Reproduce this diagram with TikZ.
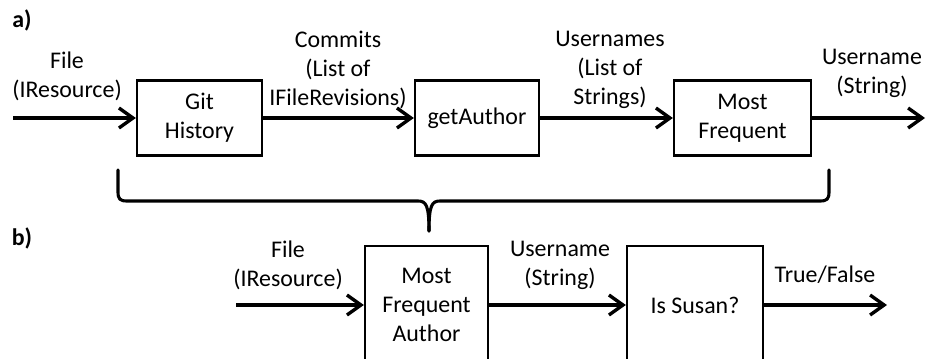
\documentclass[tikz,border=0pt]{standalone}
\usepackage{fontspec}
\setmainfont{Carlito}
\usetikzlibrary{arrows.meta}

\tikzset{
  every node/.style={font=\fontsize{17}{20.5}\selectfont},
  tag/.style={font=\fontsize{17}{20.5}\selectfont\bfseries, inner sep=0pt},
  blk/.style={draw, line width=1.6pt, minimum height=1.875cm, inner sep=2pt, align=center},
  tallblk/.style={blk, minimum height=2.95cm},
  lbl/.style={align=center, inner sep=0pt},
  flow/.style={line width=2.4pt, -{Straight Barb[length=3.5mm,width=5mm,line width=2.4pt]}},
  brace/.style={line width=2.2pt, line cap=round, line join=round},
}

\begin{document}
\begin{tikzpicture}[x=0.025cm,y=-0.025cm]
        \clip (0,0) rectangle (927,358);

        % Part a): the chain of three steps
        \node[tag] (tagA) at (22,20) {a)};
        \coordinate (inA) at (13,118);
        \node[blk, minimum width=3.125cm] (git) at (199.5,118) {Git\\History};
        \node[blk, minimum width=3.1cm] (author) at (477,118) {getAuthor};
        \node[blk, minimum width=3.425cm] (freq) at (742.5,118) {Most\\Frequent};
        \coordinate (outA) at (925,118);

        \draw[flow] (inA) -- (git);
        \draw[flow] (git) -- (author);
        \draw[flow] (author) -- (freq);
        \draw[flow] (freq) -- (outA);

        % Labels over the arrows of a)
        \node[lbl] (fileA) at (67,76) {File\\(IResource)};
        \node[lbl] (commits) at (338,70) {Commits\\(List of\\IFileRevisions)};
        \node[lbl] (names) at (610,70) {Usernames\\(List of\\Strings)};
        \node[lbl] (nameA) at (872,73) {Username\\(String)};

        % Brace that folds a) into one box
        \draw[brace] (118,170) -- (118,192) .. controls (118,199) and (120,201) .. (127,201)
            -- (418,201) .. controls (426,201) and (429,205) .. (429,231);
        \draw[brace] (829,170) -- (829,192) .. controls (829,199) and (827,201) .. (820,201)
            -- (440,201) .. controls (432,201) and (429,205) .. (429,231);

        % Part b): the composed chain
        \node[tag] (tagB) at (22,238) {b)};
        \coordinate (inB) at (236,305);
        \node[tallblk, minimum width=3.075cm] (mfa) at (426.5,305) {Most\\Frequent\\Author};
        \node[tallblk, minimum width=3.4cm] (susan) at (695,305) {Is Susan?};
        \coordinate (outB) at (887,305);

        \draw[flow] (inB) -- (mfa);
        \draw[flow] (mfa) -- (susan);
        \draw[flow] (susan) -- (outB);

        % Labels over the arrows of b)
        \node[lbl] (fileB) at (288,265) {File\\(IResource)};
        \node[lbl] (nameB) at (560,265) {Username\\(String)};
        \node[lbl] (result) at (825,275) {True/False};
\end{tikzpicture}
\end{document}
